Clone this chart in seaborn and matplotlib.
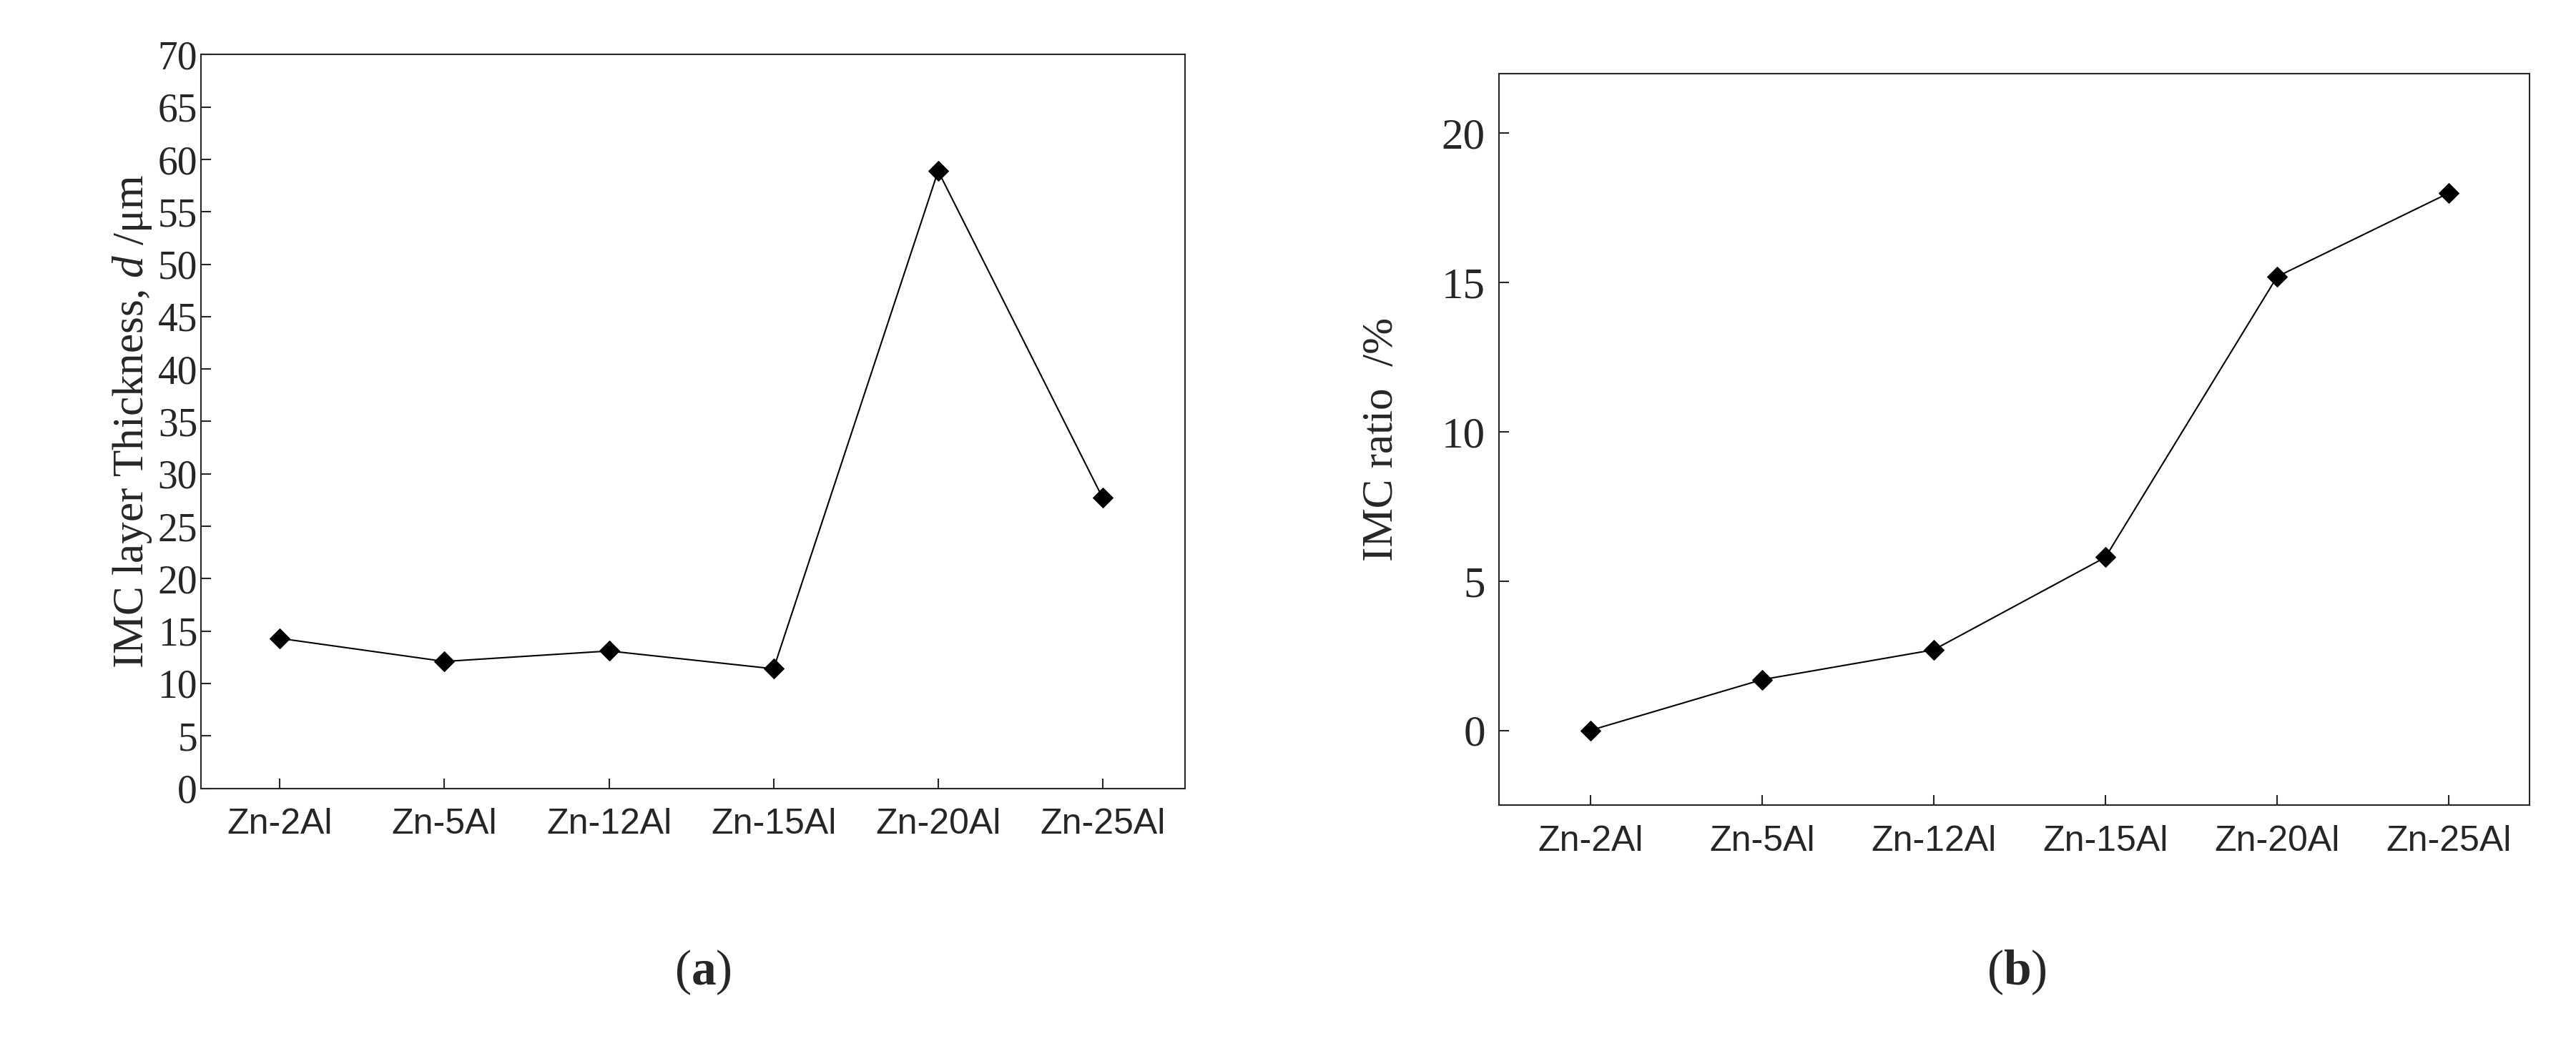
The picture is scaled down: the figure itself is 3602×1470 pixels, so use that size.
import pandas as pd
import seaborn as sns
import matplotlib.pyplot as plt

alloys = ["Zn-2Al", "Zn-5Al", "Zn-12Al", "Zn-15Al", "Zn-20Al", "Zn-25Al"]
thickness = [14.3, 12.1, 13.1, 11.4, 58.9, 27.7]
imc_ratio = [0.0, 1.7, 2.7, 5.8, 15.2, 18.0]

sns.set_style("ticks")
plt.rcParams["font.family"] = ["Liberation Serif", "DejaVu Serif"]
plt.rcParams["mathtext.fontset"] = "custom"
plt.rcParams["mathtext.rm"] = "Liberation Serif"
plt.rcParams["mathtext.it"] = "Liberation Serif:italic"
plt.rcParams["mathtext.bf"] = "Liberation Serif:bold"

df = pd.DataFrame({"alloy": alloys, "pos": range(len(alloys)),
                   "thickness": thickness, "ratio": imc_ratio})

fig = plt.figure(figsize=(36.02, 14.70), dpi=100)
ax1 = fig.add_axes([0.078, 0.25, 0.382, 0.698])
ax2 = fig.add_axes([0.582, 0.234, 0.400, 0.696])

for ax, col in [(ax1, "thickness"), (ax2, "ratio")]:
    sns.lineplot(data=df, x="pos", y=col, ax=ax, color="black", linewidth=1.5,
                 marker="D", markersize=14, markeredgecolor="black")
    ax.set_xticks(range(len(alloys)))
    ax.set_xticklabels(alloys, family="Liberation Sans", fontsize=36)
    ax.tick_params(axis="both", direction="in", length=10, width=1.5)
    ax.tick_params(axis="x", pad=20)
    for s in ax.spines.values():
        s.set_visible(True)
        s.set_linewidth(1.5)
    ax.set_xlabel("")

ax1.set_xlim(-0.48, 5.5)
ax1.set_ylim(0, 70)
ax1.set_yticks(range(0, 71, 5))
ax1.tick_params(axis="y", labelsize=40)
ax1.set_ylabel("IMC layer Thickness, $\\mathit{d}$ /μm", fontsize=44)

ax2.set_xlim(-0.53, 5.47)
ax2.set_ylim(-2.5, 22)
ax2.set_yticks(range(0, 21, 5))
ax2.tick_params(axis="y", labelsize=44, pad=14)
ax2.set_ylabel("IMC ratio  /%", fontsize=44, labelpad=40)

fig.text(0.273, 0.075, "($\\mathbf{a}$)", fontsize=50, ha="center", va="center")
fig.text(0.783, 0.075, "($\\mathbf{b}$)", fontsize=50, ha="center", va="center")

fig.savefig("out.png", dpi=100)
